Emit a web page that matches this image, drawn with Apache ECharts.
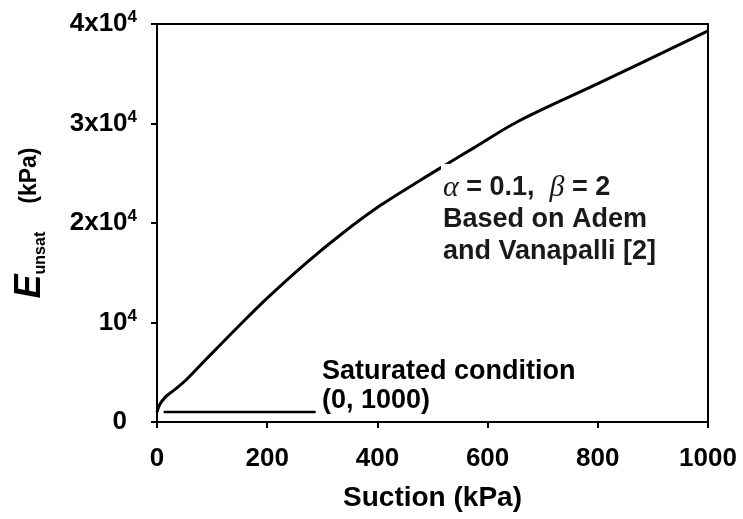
<!DOCTYPE html>
<html><head><meta charset="utf-8">
<script src="https://cdn.jsdelivr.net/npm/echarts@6/dist/echarts.min.js"></script>
<style>html,body{margin:0;padding:0;background:#fff}#c{width:743px;height:519px}</style>
</head><body><div id="c"></div>
<script>
// Curve: suction (kPa) vs E_unsat (kPa)
const suction = [0, 5, 15, 25, 40, 55, 90, 145, 200, 270, 335, 405, 478, 530, 575, 655, 800, 1000];
const eUnsat  = [1000, 1750, 2500, 2950, 3600, 4350, 6350, 9450, 12450, 15950, 18900, 21750, 24300, 26050, 27550, 30200, 34000, 39300];
// Leader line for the saturated condition annotation
const saturatedX = [12, 288];
const saturatedE = [1000, 1000];
// Tick labels
const xTicks = [0, 200, 400, 600, 800, 1000];
const yTickLabels = ['{b|0}{p|}', '{b|10}{s|4}', '{b|2x10}{s|4}', '{b|3x10}{s|4}', '{b|4x10}{s|4}'];

const FONT = 'Liberation Sans, Arial, sans-serif';
const chart = echarts.init(document.getElementById('c'), null, {renderer: 'canvas'});

const curve = suction.map((x, i) => [x, eUnsat[i]]);
const sat = saturatedX.map((x, i) => [x, saturatedE[i]]);

chart.setOption({
  animation: false,
  backgroundColor: '#fff',
  grid: {left: 157, right: 35, top: 24, bottom: 97, show: true, borderColor: '#000', borderWidth: 2},
  xAxis: {
    type: 'value', min: 0, max: 1000, interval: 200,
    name: 'Suction (kPa)', nameLocation: 'middle', nameGap: 62,
    nameTextStyle: {fontFamily: FONT, fontWeight: 'bold', fontSize: 28, color: '#000'},
    axisLine: {show: true, onZero: false, lineStyle: {color: '#000', width: 2}},
    axisTick: {show: true, inside: false, length: 6, lineStyle: {color: '#000', width: 2}},
    splitLine: {show: false},
    axisLabel: {
      margin: 24, fontFamily: FONT, fontWeight: 'bold', fontSize: 26, color: '#000',
      formatter: v => (xTicks.indexOf(v) >= 0 ? String(v) : '')
    }
  },
  yAxis: {
    type: 'value', min: 0, max: 40000, interval: 10000,
    name: '{e|E}{sub|unsat}{gap|}{n|(kPa)}', nameLocation: 'middle', nameRotate: 90, nameGap: 108,
    nameTextStyle: {
      rich: {
        e: {fontFamily: FONT, fontStyle: 'italic', fontWeight: 'bold', fontSize: 36, lineHeight: 38, color: '#000'},
        sub: {fontFamily: FONT, fontWeight: 'bold', fontSize: 16, lineHeight: 16, verticalAlign: 'bottom', color: '#000'},
        gap: {width: 28, lineHeight: 38},
        n: {fontFamily: FONT, fontWeight: 'bold', fontSize: 23, lineHeight: 38, color: '#000'}
      }
    },
    axisLine: {show: true, onZero: false, lineStyle: {color: '#000', width: 2}},
    axisTick: {show: true, inside: false, length: 6, lineStyle: {color: '#000', width: 2}},
    splitLine: {show: false},
    axisLabel: {
      margin: 20,
      formatter: v => yTickLabels[Math.round(v / 10000)] || '',
      rich: {
        b: {fontFamily: FONT, fontWeight: 'bold', fontSize: 26, lineHeight: 30, color: '#000'},
        s: {fontFamily: FONT, fontWeight: 'bold', fontSize: 17, lineHeight: 17, verticalAlign: 'top', color: '#000'},
        p: {width: 10}
      }
    }
  },
  series: [
    {type: 'line', data: curve, smooth: 0.35, showSymbol: false, symbol: 'none',
     lineStyle: {color: '#000', width: 3}, z: 3},
    {type: 'line', data: sat, showSymbol: false, symbol: 'none',
     lineStyle: {color: '#000', width: 2.5}, z: 3}
  ],
  graphic: [
    {type: 'text', left: 441, top: 164, z: 100,
     style: {
       text: '{g|α}{t| = 0.1,  }{g|β}{t| = 2}\n{t|Based on Adem}\n{t|and Vanapalli [2]}',
       backgroundColor: '#fff', padding: [8, 4, 2, 2],
       rich: {
         t: {fontFamily: FONT, fontWeight: 'bold', fontSize: 27, lineHeight: 32, fill: '#1a1a1a'},
         g: {fontFamily: 'Liberation Serif, DejaVu Serif, serif', fontStyle: 'italic', fontSize: 30, lineHeight: 32, fill: '#1a1a1a'}
       }
     }},
    {type: 'text', left: 322, top: 358, z: 100,
     style: {
       text: '{t|Saturated condition}\n{t|(0, 1000)}',
       rich: {
         t: {fontFamily: FONT, fontWeight: 'bold', fontSize: 27, lineHeight: 29, fill: '#000'}
       }
     }}
  ]
});
</script></body></html>
